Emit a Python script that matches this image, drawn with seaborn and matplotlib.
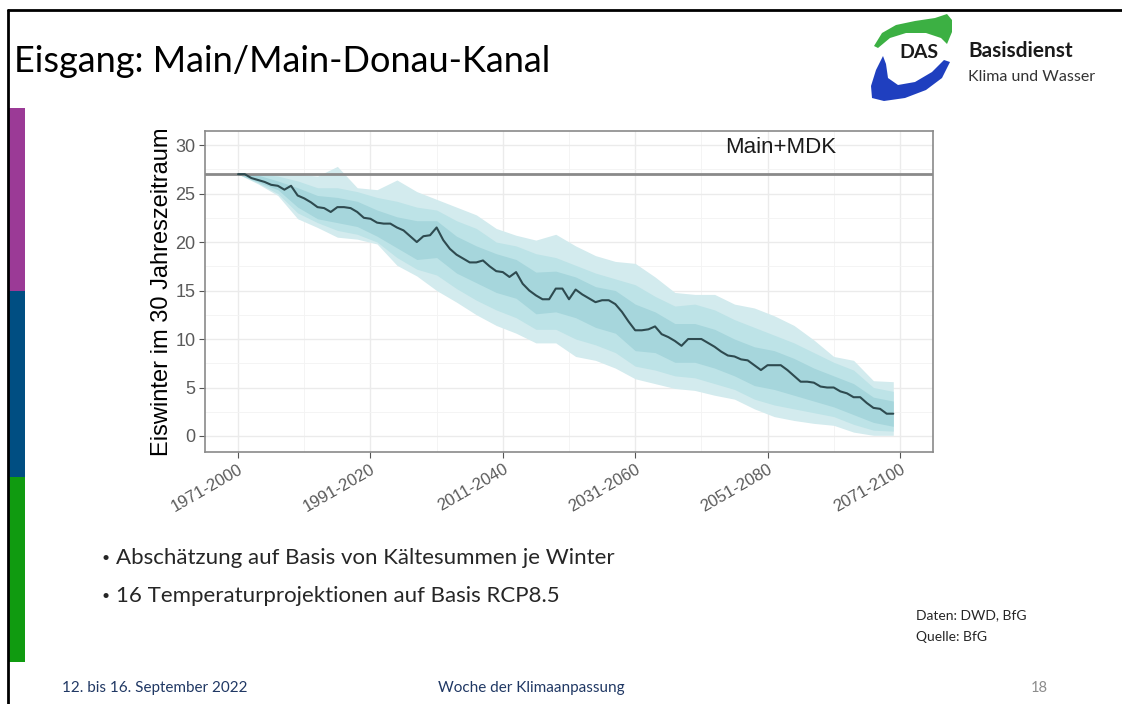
import matplotlib
matplotlib.use("Agg")
import matplotlib.pyplot as plt
import matplotlib.transforms as mtransforms
import seaborn as sns
import pandas as pd
from matplotlib.patches import Polygon, Rectangle
from matplotlib.lines import Line2D
from matplotlib.ticker import MultipleLocator, FixedLocator

# ---------------- data ----------------
years = list(range(1971, 2071))
median_winters = [
    27.0, 27.0, 26.6, 26.4, 26.2, 25.9, 25.8, 25.4, 25.8, 24.8,
    24.5, 24.1, 23.6, 23.5, 23.1, 23.6, 23.6, 23.5, 23.1, 22.5,
    22.4, 22.0, 21.9, 21.9, 21.5, 21.2, 20.6, 20.0, 20.6, 20.7,
    21.5, 20.2, 19.3, 18.7, 18.3, 17.9, 17.9, 18.1, 17.5, 17.0,
    16.9, 16.4, 16.9, 15.7, 15.0, 14.5, 14.1, 14.1, 15.2, 15.2,
    14.1, 15.1, 14.6, 14.2, 13.8, 14.0, 14.0, 13.6, 12.8, 11.8,
    10.9, 10.9, 11.0, 11.3, 10.5, 10.2, 9.8, 9.3, 10.0, 10.0,
    10.0, 9.6, 9.2, 8.7, 8.3, 8.2, 7.9, 7.8, 7.3, 6.8,
    7.3, 7.3, 7.3, 6.8, 6.2, 5.6, 5.6, 5.5, 5.1, 5.0,
    5.0, 4.6, 4.4, 4.0, 4.0, 3.4, 2.9, 2.8, 2.3, 2.3,
]

band_years = list(range(1971, 2071, 3))
outer_hi = [27.0, 27.0, 27.0, 27.0, 26.8, 27.8, 25.6, 25.4, 26.4, 25.2,
            24.4, 23.6, 22.8, 21.4, 20.7, 20.2, 20.8, 19.6, 18.6, 18.0,
            17.8, 16.4, 14.8, 14.6, 14.6, 13.6, 13.2, 12.4, 11.4, 9.9,
            8.2, 7.8, 5.7, 5.6]
mid_hi = [27.0, 27.0, 26.8, 26.3, 25.6, 25.6, 25.2, 24.6, 24.2, 23.6,
          23.3, 22.2, 21.4, 20.0, 19.6, 18.8, 18.4, 17.6, 16.8, 16.2,
          15.6, 14.4, 13.4, 13.6, 13.0, 12.0, 11.2, 10.4, 9.6, 8.6,
          7.6, 6.8, 5.0, 4.6]
inner_hi = [27.0, 26.9, 26.3, 25.6, 24.8, 24.6, 24.2, 23.3, 22.6, 22.2,
            22.2, 20.6, 19.6, 18.8, 18.2, 16.9, 17.0, 16.4, 15.4, 15.0,
            13.6, 12.8, 11.6, 11.6, 11.0, 10.0, 9.2, 8.8, 8.0, 7.0,
            6.2, 5.4, 4.0, 3.6]
inner_lo = [27.0, 26.2, 25.4, 23.6, 22.4, 22.0, 21.6, 20.6, 19.4, 18.2,
            18.4, 16.8, 15.8, 14.8, 14.2, 12.6, 12.8, 12.2, 11.2, 10.6,
            8.8, 8.6, 7.6, 7.6, 7.0, 6.2, 5.2, 4.8, 4.2, 3.6,
            3.0, 2.2, 1.4, 1.0]
mid_lo = [27.0, 26.1, 25.0, 23.0, 22.0, 21.2, 20.8, 20.0, 18.4, 17.2,
          16.6, 15.2, 14.0, 13.0, 12.2, 11.0, 11.0, 10.0, 9.4, 8.6,
          7.2, 6.8, 6.2, 6.0, 5.4, 4.8, 3.8, 3.2, 2.8, 2.4,
          2.0, 1.2, 0.6, 0.5]
outer_lo = [27.0, 26.0, 24.8, 22.4, 21.5, 20.5, 20.3, 19.8, 17.6, 16.5,
            15.0, 13.8, 12.5, 11.4, 10.6, 9.6, 9.6, 8.2, 7.8, 7.0,
            5.9, 5.4, 4.9, 4.7, 4.2, 3.8, 2.8, 2.0, 1.6, 1.3,
            1.1, 0.4, 0.07, 0.07]

reference_value = 27
x_tick_pos = [1971, 1991, 2011, 2031, 2051, 2071]
x_tick_labels = ["1971-2000", "1991-2020", "2011-2040", "2031-2060", "2051-2080", "2071-2100"]
y_ticks = [0, 5, 10, 15, 20, 25, 30]
panel_label = "Main+MDK"
y_label = "Eiswinter im 30 Jahreszeitraum"

title = "Eisgang: Main/Main-Donau-Kanal"
bullets = ["Abschätzung auf Basis von Kältesummen je Winter",
           "16 Temperaturprojektionen auf Basis RCP8.5"]
source_lines = ["Daten: DWD, BfG", "Quelle: BfG"]
footer_left = "12. bis 16. September 2022"
footer_mid = "Woche der Klimaanpassung"
page_no = "18"

# ---------------- figure ----------------
W, H = 1122, 704
sns.set_theme(style="white")
plt.rcParams["font.family"] = ["Liberation Sans", "DejaVu Sans"]

fig = plt.figure(figsize=(W / 100, H / 100), dpi=100)
fig.patch.set_facecolor("white")


def fx(px):
    return px / W


def fy(py):
    return 1 - py / H


SLIDE_FONT = ["Lato", "DejaVu Sans"]

# slide border lines
fig.add_artist(Line2D([fx(8), fx(8)], [fy(10), fy(704)], color="black", lw=2))
fig.add_artist(Line2D([fx(8), fx(1122)], [fy(10), fy(10)], color="black", lw=2))

# colour bars on the left
for top, bot, col in [(108, 291, "#9b3a96"), (291, 477, "#004e82"), (477, 662, "#109b10")]:
    fig.add_artist(Rectangle((fx(9), fy(bot)), fx(25) - fx(9), (bot - top) / H,
                             transform=fig.transFigure, color=col, lw=0))

# title
fig.text(fx(14), fy(61), title, fontsize=26, family=SLIDE_FONT, va="center", ha="left",
         color="black")

# ---------------- chart ----------------
ax = fig.add_axes([fx(205), fy(452), (933 - 205) / W, (452 - 131) / H])
ax.set_facecolor("white")

c_outer, c_mid, c_inner = "#d3ebee", "#bde3e7", "#a6d6dc"
ax.fill_between(band_years, outer_lo, outer_hi, color=c_outer, lw=0, zorder=1)
ax.fill_between(band_years, mid_lo, mid_hi, color=c_mid, lw=0, zorder=2)
ax.fill_between(band_years, inner_lo, inner_hi, color=c_inner, lw=0, zorder=3)
ax.axhline(reference_value, color="#8a8a8a", lw=2, zorder=4)

df = pd.DataFrame({"year": years, "median": median_winters})
sns.lineplot(data=df, x="year", y="median", color="#2e4a4f", lw=1.5, ax=ax, zorder=5)

ax.text(2053, 29.7, panel_label, fontsize=16, ha="center", va="center", color="#1a1a1a")

ax.set_xlim(1966, 2076)
ax.set_ylim(-1.65, 31.45)
ax.set_xticks(x_tick_pos)
ax.set_xticklabels(x_tick_labels, rotation=30, ha="right", rotation_mode="anchor",
                   fontsize=12, color="#5a5a5a")
shift = mtransforms.ScaledTranslation(9 / 100, -1 / 100, fig.dpi_scale_trans)
for lbl in ax.get_xticklabels():
    lbl.set_transform(lbl.get_transform() + shift)
ax.set_yticks(y_ticks)
ax.set_yticklabels([str(v) for v in y_ticks], fontsize=13, color="#5a5a5a")
ax.yaxis.set_minor_locator(MultipleLocator(2.5))
ax.xaxis.set_minor_locator(FixedLocator([1981, 2001, 2021, 2041, 2061]))
ax.grid(which="major", color="#ebebeb", lw=1.0, zorder=0)
ax.grid(which="minor", color="#f3f3f3", lw=0.6, zorder=0)
ax.set_axisbelow(True)
ax.tick_params(axis="both", which="major", length=4, width=0.8, color="#555555", pad=3,
               bottom=True, left=True)
ax.tick_params(axis="both", which="minor", length=0)
for s in ax.spines.values():
    s.set_color("#8a8a8a")
    s.set_linewidth(1.2)
ax.set_xlabel("")
ax.set_ylabel(y_label, fontsize=17, color="black")
ax.yaxis.set_label_coords((173 - 205) / 728, 0.5)

# ---------------- bullets & notes ----------------
for i, t in enumerate(bullets):
    yy = 558 + i * 38
    fig.text(fx(106), fy(yy), "•", fontsize=10, family=SLIDE_FONT, va="center", ha="center")
    fig.text(fx(116), fy(yy), t, fontsize=16, family=SLIDE_FONT, va="center", ha="left")
for i, t in enumerate(source_lines):
    fig.text(fx(916), fy(615 + i * 22), t, fontsize=10, family=SLIDE_FONT, va="center", ha="left")

fig.text(fx(62), fy(688), footer_left, fontsize=11, family=SLIDE_FONT, color="#203864", va="center")
fig.text(fx(531), fy(688), footer_mid, fontsize=11, family=SLIDE_FONT, color="#203864",
         va="center", ha="center")
fig.text(fx(1048), fy(688), page_no, fontsize=10.5, family=SLIDE_FONT, color="#8c8c8c",
         va="center", ha="right")

# ---------------- logo ----------------
lax = fig.add_axes([fx(855), fy(102), (1112 - 855) / W, (102 - 12) / H])
lax.set_xlim(855, 1112)
lax.set_ylim(102, 12)
lax.axis("off")
green = [(874, 46), (882, 33), (896, 25), (915, 21), (935, 18), (947, 14), (952, 20),
         (952, 32), (947, 44), (941, 38), (926, 33), (906, 33), (890, 38), (878, 48)]
blue = [(883, 56), (876, 70), (871, 86), (872, 98), (884, 101), (905, 98), (926, 90),
        (942, 78), (950, 62), (944, 60), (932, 72), (915, 82), (898, 85), (888, 78), (886, 64)]
lax.add_patch(Polygon(green, closed=True, color="#3cb043", lw=0))
lax.add_patch(Polygon(blue, closed=True, color="#1f3fbf", lw=0))
lax.text(919, 52, "DAS", fontsize=14, fontweight="bold", family=SLIDE_FONT, ha="center",
         va="center", color="#1a1a1a")
lax.text(968, 51, "Basisdienst", fontsize=15, fontweight="bold", family=SLIDE_FONT,
         ha="left", va="center", color="#1a1a1a")
lax.text(968, 77, "Klima und Wasser", fontsize=11.5, family=SLIDE_FONT, ha="left",
         va="center", color="#333333")

fig.savefig("out.png", dpi=100, facecolor="white")
